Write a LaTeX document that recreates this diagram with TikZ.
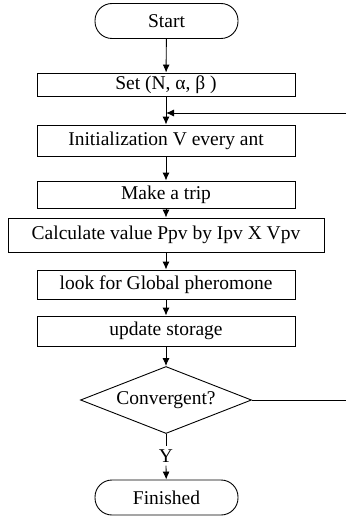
\documentclass[tikz,border=0pt]{standalone}
\usepackage{fontspec}
\setmainfont{Liberation Serif}
\usetikzlibrary{shapes.geometric,arrows.meta}
\begin{document}
\begin{tikzpicture}[x=1pt,y=-1pt,
  every node/.style={font=\fontsize{19.5}{21}\selectfont, inner sep=0pt},
  stepbox/.style={draw, line width=0.9pt, minimum width=258pt},
  term/.style={draw, line width=0.9pt, rounded corners=17pt, minimum width=143pt, minimum height=35pt},
  decide/.style={draw, diamond, aspect=2.55, line width=0.9pt, minimum width=171pt, minimum height=67pt},
  arr/.style={line width=0.9pt, -{Latex[length=8pt,width=7pt]}},
  ln/.style={line width=0.9pt}]
\useasboundingbox (0,0) rectangle (346,516);
\node[term] (start) at (166.5,21) {Start};
\node[stepbox, minimum height=23pt] (set) at (166,84.5) {Set (N, α, β )};
\node[stepbox, minimum height=31pt] (init) at (166,140.5) {Initialization V every ant};
\node[stepbox, minimum height=27pt] (trip) at (166,194.5) {Make a trip};
\node[stepbox, minimum width=316pt, minimum height=34pt] (calc) at (166,235) {Calculate value Ppv by Ipv X Vpv};
\node[stepbox, minimum height=29pt] (look) at (166,284.5) {look for Global pheromone};
\node[stepbox, minimum height=30pt] (upd) at (166,331) {update storage};
\node[decide] (conv) at (166,400) {Convergent?};
\node (ylab) at (166,456) {Y};
\node[term] (fin) at (166.5,497.5) {Finished};
\coordinate (fb1) at (346,113);
\coordinate (fbj) at (166,113);
\coordinate (fb2) at (346,400);
\draw[arr] (start) -- (set);
\draw[arr] (set) -- (init);
\draw[arr] (fb1) -- (fbj);
\draw[arr] (init) -- (trip);
\draw[arr] (trip) -- (calc);
\draw[arr] (calc) -- (look);
\draw[arr] (look) -- (upd);
\draw[arr] (upd) -- (conv);
\draw[ln] (conv.south) -- ([yshift=3pt]ylab.north);
\draw[arr] ([yshift=-3pt]ylab.south) -- (fin);
\draw[ln] (conv.east) -- (fb2);
\end{tikzpicture}
\end{document}
